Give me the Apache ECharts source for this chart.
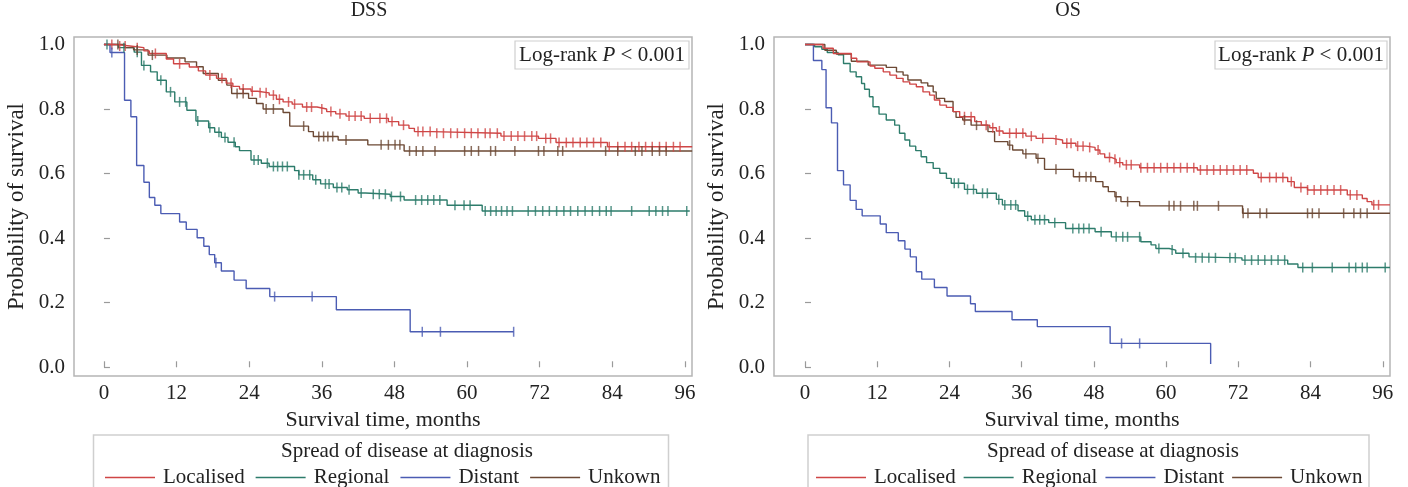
<!DOCTYPE html>
<html>
<head>
<meta charset="utf-8">
<script src="https://cdn.jsdelivr.net/npm/echarts@6/dist/echarts.min.js"></script>
<style>
html,body{margin:0;padding:0;background:#fff;}
#chart{width:1408px;height:487px;}
</style>
</head>
<body>
<div id="chart"></div>
<script>
// ---------- data ----------
const groups = ['Localised', 'Regional', 'Distant', 'Unkown'];
const xTicks = [0, 12, 24, 36, 48, 60, 72, 84, 96];
const yTicks = [0, 0.2, 0.4, 0.6, 0.8, 1.0];
const panelTitles = ['DSS', 'OS'];
const legendTitle = 'Spread of disease at diagnosis';

// DSS – Localised
const dssLocT = [0, 1.8, 4.3, 6.6, 7.5, 10.3, 11.5, 14.1, 15.6, 16.8, 18.6, 20.2, 21.3, 22.4, 24.3, 25.4, 27.3, 28.5, 29.6, 31.1, 32.8, 35.2, 36.8, 38.3, 40, 43, 47, 48.7, 50.4, 51.3, 54.2, 65.6, 71.8, 74.7, 83.2, 97.2];
const dssLocS = [1, 0.995, 0.99, 0.98, 0.972, 0.955, 0.94, 0.93, 0.918, 0.905, 0.895, 0.88, 0.87, 0.862, 0.855, 0.85, 0.843, 0.83, 0.822, 0.815, 0.806, 0.8, 0.792, 0.785, 0.778, 0.771, 0.761, 0.75, 0.74, 0.73, 0.725, 0.716, 0.709, 0.696, 0.683, 0.683];
const dssLocC = [1.3, 2.6, 3.5, 5.5, 8.5, 12.5, 17.5, 19.5, 21, 23, 24.5, 25.8, 26.8, 28, 29, 30.5, 31.5, 33.5, 34.3, 36, 37.5, 39, 40.5, 41.5, 42.5, 44, 45.6, 46.7, 47.6, 49.5, 51.9, 52.7, 53.9, 55, 56.1, 57.3, 58.4, 59.6, 60.7, 61.8, 63, 63.8, 65, 66.1, 67.3, 68.4, 69.5, 70.7, 71.5, 73, 73.8, 75.2, 76.4, 77.5, 78.7, 79.8, 80.9, 82.1, 83.5, 84.9, 86.1, 87.2, 88.4, 89.5, 90.6, 91.8, 92.9, 94.1, 95.2];

// DSS – Regional
const dssRegT = [0, 2.4, 5, 6.2, 7.7, 8.8, 10.3, 11.7, 13.7, 15.2, 17.3, 18.3, 19.4, 20.5, 21.7, 22.4, 24.3, 26, 27.3, 31.5, 32.2, 34.5, 35.8, 37.9, 40.2, 42, 43.2, 47.3, 49.6, 56.7, 62.5, 96.8];
const dssRegS = [1, 0.99, 0.976, 0.935, 0.915, 0.889, 0.853, 0.822, 0.796, 0.763, 0.742, 0.728, 0.712, 0.697, 0.683, 0.671, 0.642, 0.632, 0.622, 0.609, 0.596, 0.581, 0.568, 0.557, 0.55, 0.54, 0.536, 0.529, 0.518, 0.502, 0.484, 0.484];
const dssRegC = [0.5, 3.3, 5.5, 6.6, 9.4, 11, 12.5, 13.5, 15.5, 17.5, 19, 20, 21.5, 24.8, 25.5, 27, 28, 28.7, 29.5, 30.3, 32.2, 33, 34, 35, 36.6, 37.2, 38.5, 39.3, 40.5, 42.5, 44.5, 45.5, 46.5, 47.5, 49, 51.5, 52.5, 53.5, 54.5, 55.5, 58, 59.5, 60.5, 63, 63.9, 64.8, 65.7, 66.6, 67.5, 70.1, 71.3, 72.5, 73.6, 74.8, 76, 77.1, 78.3, 79.5, 80.7, 81.9, 83, 83.8, 87.2, 90.1, 91.2, 92.3, 93.2, 96.3];

// DSS – Distant
const dssDisT = [0, 1, 3.4, 4.45, 5.4, 6.6, 7.5, 8.4, 9.4, 12.5, 13.6, 15.4, 16.5, 17.4, 18.3, 19.4, 21.5, 23.5, 27.4, 38.4, 50.6, 67.7];
const dssDisS = [1, 0.975, 0.827, 0.776, 0.625, 0.573, 0.526, 0.502, 0.476, 0.45, 0.427, 0.401, 0.375, 0.349, 0.324, 0.298, 0.27, 0.244, 0.219, 0.178, 0.11, 0.11];
const dssDisC = [1.3, 18.5, 28.2, 34.4, 52.6, 55.6, 67.7];

// DSS – Unkown
const dssUnkT = [0, 3.5, 4.9, 7.3, 10.4, 13.4, 15.3, 16.4, 18.9, 20.3, 21.1, 23.9, 25.2, 26.3, 29.6, 30.7, 33.8, 34.6, 38.7, 43.6, 49.6, 97.2];
const dssUnkS = [1, 0.99, 0.983, 0.967, 0.958, 0.946, 0.931, 0.91, 0.889, 0.874, 0.848, 0.833, 0.817, 0.8, 0.789, 0.747, 0.73, 0.715, 0.704, 0.689, 0.67, 0.67];
const dssUnkC = [2.3, 5.5, 8, 22, 23, 26.8, 28, 33, 35.5, 36.3, 37, 37.8, 40, 45.8, 47, 48.1, 48.9, 50.5, 51.6, 52.7, 54.7, 59.6, 60.7, 61.9, 63.9, 64.7, 67.9, 71.8, 72.7, 75, 75.8, 82.9, 84.9, 87.8, 88.9, 90.6, 91.8, 92.9];

// OS – Localised
const osLocT = [0, 3.0, 4.7, 7.7, 8.6, 10.8, 11.6, 13, 14.1, 15.2, 16.3, 17.4, 18.5, 19.6, 20.7, 21.5, 22.4, 23.5, 24.6, 25.7, 28.2, 29.3, 30.7, 31.8, 32.9, 36.7, 38.4, 41.2, 42.8, 45, 46.7, 48.2, 49, 49.8, 50.9, 51.7, 52.8, 55.6, 65.2, 74.5, 75.3, 80.2, 81.3, 83.5, 90.1, 92.6, 93.4, 94.2, 97.2];
const osLocS = [1, 0.988, 0.972, 0.957, 0.946, 0.933, 0.926, 0.915, 0.905, 0.895, 0.884, 0.877, 0.869, 0.853, 0.843, 0.828, 0.812, 0.805, 0.792, 0.776, 0.761, 0.75, 0.742, 0.732, 0.725, 0.716, 0.709, 0.704, 0.694, 0.685, 0.681, 0.673, 0.661, 0.65, 0.644, 0.634, 0.627, 0.618, 0.611, 0.601, 0.588, 0.575, 0.557, 0.549, 0.534, 0.523, 0.513, 0.503, 0.503];
const osLocC = [26.5, 27.6, 30.1, 31.2, 32.3, 34, 35.1, 36.2, 37.6, 39.5, 41.7, 43.5, 44.2, 45.3, 46.2, 47.3, 48.7, 50.6, 51.5, 52.3, 53.4, 54.2, 55.8, 56.9, 58, 59.1, 60.2, 61.3, 62.4, 63.5, 64.6, 65.7, 66.8, 67.9, 69, 70.1, 71.2, 72.3, 73.4, 75.8, 77.2, 78.3, 79.4, 80.8, 82.4, 83.5, 84.6, 85.7, 86.8, 87.9, 89, 90.6, 91.7, 94.5, 95.3];

// OS – Regional
const osRegT = [0, 1.6, 2.8, 3.7, 5.5, 6.4, 7.5, 8.5, 9.4, 9.9, 10.7, 11.3, 12.3, 13.5, 14.9, 15.7, 16.6, 17.4, 18.4, 19.3, 20.2, 21.3, 22.4, 23.5, 24.3, 26.5, 28.5, 31.8, 32.8, 35.4, 36.5, 37.6, 40.5, 43.3, 48.2, 50.9, 55.8, 57.5, 58.3, 60.5, 61.6, 63.8, 64.6, 72.6, 80.2, 81.9, 97.2];
const osRegS = [1, 0.993, 0.985, 0.975, 0.968, 0.941, 0.915, 0.9, 0.879, 0.861, 0.838, 0.807, 0.784, 0.766, 0.75, 0.725, 0.704, 0.685, 0.671, 0.652, 0.634, 0.616, 0.601, 0.585, 0.57, 0.551, 0.539, 0.52, 0.503, 0.485, 0.468, 0.457, 0.448, 0.43, 0.42, 0.404, 0.389, 0.379, 0.368, 0.363, 0.353, 0.342, 0.339, 0.332, 0.32, 0.309, 0.309];
const osRegC = [24.8, 25.5, 27, 28, 29.5, 30.3, 32.2, 33.2, 34.2, 35, 37, 38.2, 39, 39.8, 41.5, 44.5, 45.5, 46.3, 47.2, 49.2, 51.7, 52.8, 53.6, 55.6, 58.8, 61, 62.8, 64.9, 66, 67.1, 68.2, 70.6, 71.5, 73.1, 74.2, 75.3, 76.4, 77.5, 78.6, 79.7, 82.7, 84.3, 87.6, 90.4, 91.5, 92.6, 93.4, 96.4];

// OS – Distant
const osDisT = [0, 1.4, 2.8, 3.5, 4.4, 5.4, 6.4, 7.5, 8.5, 9.5, 12.5, 13.5, 15.5, 16.6, 17.5, 18.5, 19.4, 21.5, 23.6, 27.5, 28.3, 34.4, 38.6, 50.7, 67.4];
const osDisS = [1, 0.95, 0.922, 0.804, 0.757, 0.609, 0.565, 0.517, 0.489, 0.469, 0.444, 0.417, 0.392, 0.366, 0.342, 0.296, 0.273, 0.247, 0.221, 0.197, 0.173, 0.147, 0.126, 0.074, 0.01];
const osDisC = [52.6, 55.6];

// OS – Unkown
const osUnkT = [0, 3.3, 5.2, 7.7, 10.5, 13.5, 15.2, 16.3, 17.1, 19.3, 20.4, 21.3, 21.8, 23.2, 24.6, 25.1, 26.2, 27.6, 30.4, 31.5, 33.7, 34.5, 36.2, 38.4, 39.8, 44.6, 48.3, 49.5, 50.4, 51.5, 52.5, 55.6, 72.7, 97.2];
const osUnkS = [1, 0.982, 0.97, 0.948, 0.936, 0.929, 0.915, 0.905, 0.89, 0.881, 0.871, 0.853, 0.833, 0.823, 0.792, 0.774, 0.766, 0.75, 0.73, 0.699, 0.688, 0.673, 0.661, 0.647, 0.613, 0.59, 0.575, 0.559, 0.544, 0.528, 0.513, 0.5, 0.477, 0.477];
const osUnkC = [26.5, 28.5, 34, 36.7, 38.7, 41.7, 45.6, 46.7, 47.5, 51.7, 53.6, 60.5, 61.3, 62.4, 64.6, 65.2, 68.7, 72.8, 73.6, 75.6, 76.7, 83.5, 84.3, 85.4, 89.5, 91.2, 92.3, 93.4];

// ---------- style ----------
const colors = ['#cf4646', '#2d7c6b', '#4b5cb3', '#6c4935'];
const FONT = 'Liberation Serif, Times New Roman, serif';
const TXT = '#222';

function survAt(T, S, t) {
  let v = S[0];
  for (let i = 0; i < T.length; i++) { if (T[i] <= t) v = S[i]; else break; }
  return v;
}

const panels = [
  [[dssLocT, dssLocS, dssLocC], [dssRegT, dssRegS, dssRegC], [dssDisT, dssDisS, dssDisC], [dssUnkT, dssUnkS, dssUnkC]],
  [[osLocT, osLocS, osLocC], [osRegT, osRegS, osRegC], [osDisT, osDisS, osDisC], [osUnkT, osUnkS, osUnkC]]
];

const series = [];
panels.forEach((curves, g) => {
  curves.forEach((c, k) => {
    const [T, S, C] = c;
    series.push({
      type: 'line', name: groups[k], xAxisIndex: g, yAxisIndex: g,
      step: 'end', showSymbol: false, symbol: 'none', silent: true,
      data: T.map((t, i) => [t, S[i]]),
      lineStyle: { width: 1.4, color: colors[k] }, itemStyle: { color: colors[k] }, z: 2 + (k === 0 ? 1 : 0)
    });
    series.push({
      type: 'scatter', name: groups[k], xAxisIndex: g, yAxisIndex: g, silent: true,
      data: C.map(t => [t, survAt(T, S, t)]),
      symbol: 'rect', symbolSize: [1.5, 10], itemStyle: { color: colors[k] }, z: 4
    });
  });
});

const gridDefs = [
  { left: 74, top: 37, width: 618, height: 339 },
  { left: 774, top: 37, width: 616, height: 339 }
];
const xRanges = [[-4.95, 97.17], [-5.15, 97.2]];

const xAxes = xRanges.map((r, g) => ({
  type: 'value', gridIndex: g, min: r[0], max: r[1],
  name: 'Survival time, months', nameLocation: 'middle', nameGap: 30,
  nameTextStyle: { fontFamily: FONT, fontSize: 22, color: TXT },
  axisLine: { show: false },
  axisTick: { show: true, inside: true, length: 6, customValues: xTicks, lineStyle: { color: '#9a9a9a', width: 1.2 } },
  axisLabel: { customValues: xTicks, margin: 7, fontFamily: FONT, fontSize: 21, color: TXT },
  splitLine: { show: false }
}));
const yAxes = [0, 1].map(g => ({
  type: 'value', gridIndex: g, min: -0.027, max: 1.023,
  name: 'Probability of survival', nameLocation: 'middle', nameGap: 46, nameRotate: 90,
  nameTextStyle: { fontFamily: FONT, fontSize: 23, color: TXT },
  axisLine: { show: false },
  axisTick: { show: true, inside: true, length: 6, customValues: yTicks, lineStyle: { color: '#9a9a9a', width: 1.2 } },
  axisLabel: { customValues: yTicks, margin: 9, fontFamily: FONT, fontSize: 21, color: TXT, formatter: v => v.toFixed(1) },
  splitLine: { show: false }
}));

const legendDefs = [{ left: 100, gap: 11 }, { left: 811, gap: 8 }];
const legends = legendDefs.map(d => ({
  data: groups, left: d.left, top: 462, orient: 'horizontal',
  icon: 'rect', itemWidth: 50, itemHeight: 1.6, itemGap: d.gap,
  selectedMode: false,
  textStyle: { fontFamily: FONT, fontSize: 21, color: TXT, padding: [0, 0, 0, 3] }
}));

const titleX = [369, 1068];
const logBoxes = [{ x: 515, w: 174 }, { x: 1215, w: 172 }];
const legBoxes = [{ x: 93.5, w: 575, cx: 407 }, { x: 808, w: 561, cx: 1113 }];

const graphics = [];
[0, 1].forEach(g => {
  graphics.push({ type: 'text', x: titleX[g], y: 11, silent: true,
    style: { text: panelTitles[g], fontFamily: FONT, fontSize: 20, fill: TXT, align: 'center', verticalAlign: 'middle' } });
  graphics.push({ type: 'rect', silent: true, shape: { x: logBoxes[g].x, y: 41, width: logBoxes[g].w, height: 28 },
    style: { fill: '#fff', stroke: '#cfcfcf', lineWidth: 1.2 }, z: 10 });
  graphics.push({ type: 'text', silent: true, x: logBoxes[g].x + logBoxes[g].w / 2, y: 55, z: 11,
    style: { text: '{a|Log-rank }{b|P}{a| < 0.001}', align: 'center', verticalAlign: 'middle',
      rich: { a: { fontFamily: FONT, fontSize: 21, fill: TXT }, b: { fontFamily: FONT, fontSize: 21, fontStyle: 'italic', fill: TXT } } } });
  graphics.push({ type: 'rect', silent: true, shape: { x: legBoxes[g].x, y: 435, width: legBoxes[g].w, height: 80 },
    style: { fill: 'none', stroke: '#cfcfcf', lineWidth: 1.5 } });
  graphics.push({ type: 'text', silent: true, x: legBoxes[g].cx, y: 451,
    style: { text: legendTitle, fontFamily: FONT, fontSize: 21, fill: TXT, align: 'center', verticalAlign: 'middle' } });
});

const chart = echarts.init(document.getElementById('chart'), null, { renderer: 'canvas' });
chart.setOption({
  animation: false,
  backgroundColor: '#fff',
  grid: gridDefs.map(d => Object.assign({ show: true, borderColor: '#b5b5b5', borderWidth: 1.5, backgroundColor: 'transparent' }, d)),
  xAxis: xAxes,
  yAxis: yAxes,
  legend: legends,
  series: series,
  graphic: graphics
});
</script>
</body>
</html>
